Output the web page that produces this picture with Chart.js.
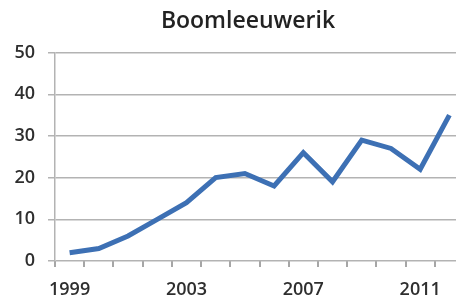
<!DOCTYPE html>
<html>
<head>
<meta charset="utf-8">
<script src="https://cdn.jsdelivr.net/npm/chart.js@4/dist/chart.umd.min.js"></script>
<style>
  body { margin: 0; overflow: hidden; background: #fff; }
  #wrap { position: relative; width: 464px; height: 298px; }
</style>
</head>
<body>
<div id="wrap"><canvas id="line-chart"></canvas></div>
<script>
const years = ['1999', '2000', '2001', '2002', '2003', '2004', '2005', '2006', '2007', '2008', '2009', '2010', '2011', '2012'];
const counts = [2, 3, 6, 10, 14, 20, 21, 18, 26, 19, 29, 27, 22, 35];
const shownYears = ['1999', '2003', '2007', '2011'];
const yTicks = [0, 10, 20, 30, 40, 50];

const gridGrey = '#b3b3b3';
const textGrey = '#2e2e2e';

// the title sits a bit right of the canvas centre in the original
const titleShift = {
    id: 'titleShift',
    afterLayout(chart) {
        const t = chart.titleBlock;
        if (t) { t.left += 16; t.right += 16; }
    }
};

const ctx = document.getElementById('line-chart');
const chartGraph = new Chart(ctx, {
    type: 'line',
    data: {
        labels: years,
        datasets: [{
            label: 'Boomleeuwerik',
            data: counts,
            borderColor: '#3d70b4',
            borderWidth: 5,
            borderJoinStyle: 'miter',
            pointRadius: 0,
            tension: 0,
            fill: false
        }]
    },
    options: {
        responsive: true,
        maintainAspectRatio: false,
        animation: false,
        layout: { padding: 0 },
        plugins: {
            legend: { display: false },
            tooltip: { enabled: false },
            title: {
                display: true,
                text: 'Boomleeuwerik',
                color: '#222222',
                font: { family: 'Open Sans', size: 23, weight: '600' },
                padding: { top: 8, bottom: 17 }
            }
        },
        scales: {
            x: {
                offset: true,
                afterFit(scale) { scale.height = 37; },
                grid: {
                    offset: true,
                    drawOnChartArea: false,
                    drawTicks: true,
                    tickLength: 6,
                    color: '#a6a6a6',
                    lineWidth: 2
                },
                border: { display: false },
                ticks: {
                    autoSkip: false,
                    maxRotation: 0,
                    padding: 12,
                    color: textGrey,
                    font: { family: 'Open Sans', size: 18, weight: '600' },
                    callback: function (value) {
                        const y = this.getLabelForValue(value);
                        return shownYears.includes(y) ? y : '';
                    }
                }
            },
            y: {
                min: 0,
                max: 50,
                afterFit(scale) { scale.width = 55; },
                afterBuildTicks(scale) { scale.ticks = yTicks.map(v => ({ value: v })); },
                grid: {
                    color: gridGrey,
                    lineWidth: 1.5,
                    tickLength: 7
                },
                border: { color: gridGrey, width: 1.5 },
                ticks: {
                    padding: 13,
                    color: textGrey,
                    font: { family: 'Open Sans', size: 18, weight: '600' }
                }
            }
        }
    },
    plugins: [titleShift]
});
</script>
</body>
</html>
